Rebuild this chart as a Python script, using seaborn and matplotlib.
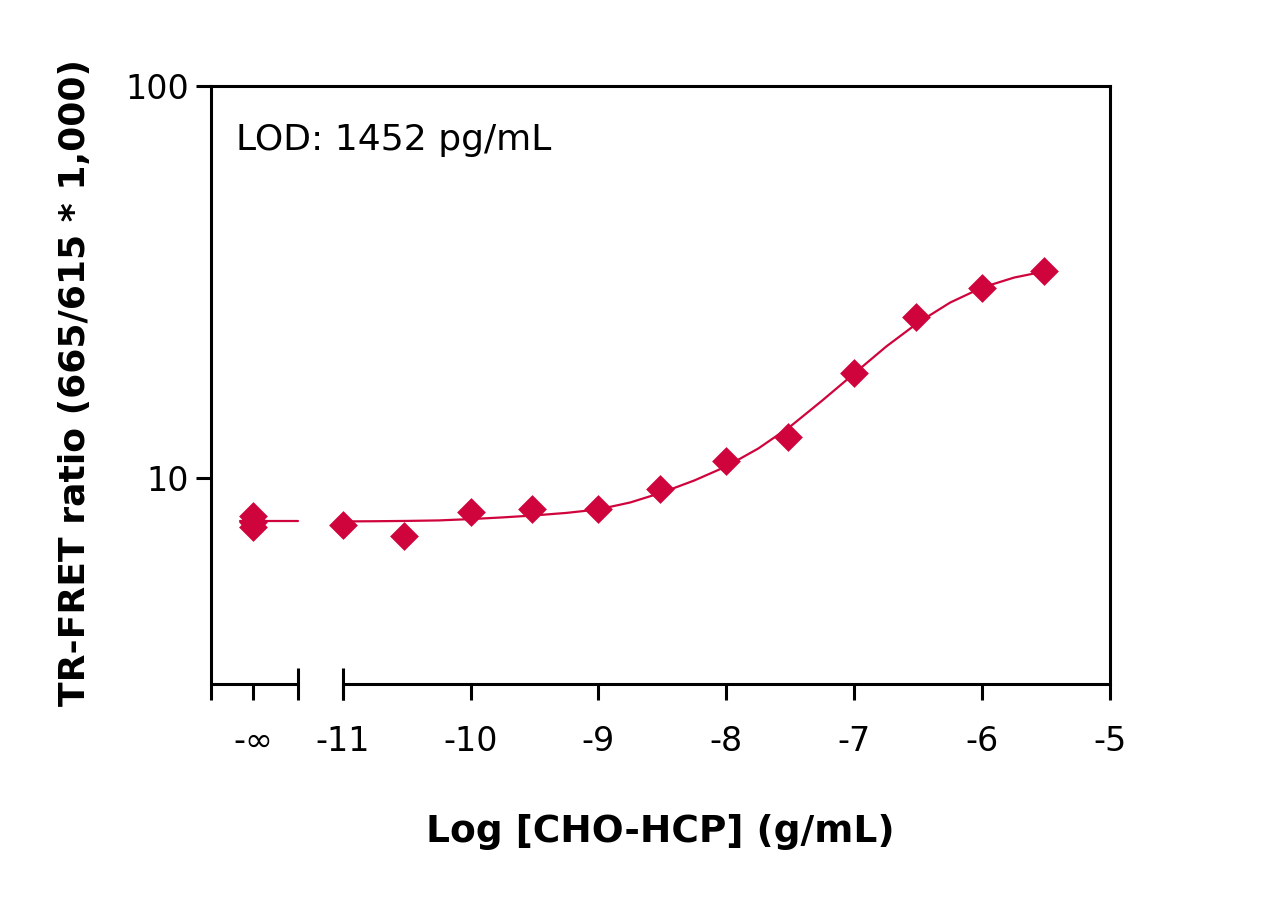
import numpy as np
import pandas as pd
import seaborn as sns
import matplotlib.pyplot as plt

# data
inf_pos = -11.7                      # where "-inf" (blank) sits on the x axis
inf_ratio = [7.98, 7.70, 7.48]       # blank replicates
log_conc = [-11, -10.52, -10, -9.52, -9, -8.52, -8, -7.52, -7, -6.52, -6, -5.52]
ratio = [7.60, 7.13, 8.18, 8.31, 8.34, 9.35, 11.02, 12.70, 18.50, 25.80, 30.48, 33.66]

fit_x = [-11.0, -10.75, -10.5, -10.25, -10.0, -9.75, -9.5, -9.25, -9.0, -8.75, -8.5,
         -8.25, -8.0, -7.75, -7.5, -7.25, -7.0, -6.75, -6.5, -6.25, -6.0, -5.75, -5.52]
fit_y = [7.745, 7.754, 7.768, 7.791, 7.852, 7.930, 8.024, 8.143, 8.312, 8.660, 9.184,
         9.854, 10.70, 11.89, 13.53, 15.76, 18.47, 21.64, 24.91, 28.02, 30.60, 32.45, 33.61]
inf_line_x = [-11.8, -11.35]
inf_line_y = [7.745, 7.745]

x_ticks = [-12.03, inf_pos, -11, -10, -9, -8, -7, -6, -5]
x_labels = ['', '-∞', '-11', '-10', '-9', '-8', '-7', '-6', '-5']
y_ticks = [10, 100]
y_labels = ['10', '100']

red = '#D0043C'

sns.set_theme(style='ticks')
plt.rcParams['font.family'] = ['DejaVu Sans']

pts = pd.DataFrame({'x': [inf_pos] * len(inf_ratio) + log_conc,
                    'y': inf_ratio + ratio})
fit = pd.DataFrame({'x': fit_x, 'y': fit_y})

fig = plt.figure(figsize=(12.65, 8.97), dpi=100)
ax = fig.add_axes([211 / 1265, 1 - 684 / 897, 899 / 1265, 598 / 897])

sns.lineplot(data=fit, x='x', y='y', ax=ax, color=red, lw=1.6,
             sort=False, estimator=None)
ax.plot(inf_line_x, inf_line_y, color=red, lw=1.6)
sns.scatterplot(data=pts, x='x', y='y', ax=ax, color=red, marker='D',
                s=215, linewidth=0, zorder=3)

ax.set_yscale('log')
ax.set_ylim(2.98, 100)
ax.set_xlim(-12.03, -5)
ax.set_yticks(y_ticks, y_labels)
ax.minorticks_off()
ax.set_xticks(x_ticks, x_labels)
ax.set_xlabel('')
ax.set_ylabel('')

for s in ['left', 'right', 'top']:
    ax.spines[s].set_linewidth(2.2)
    ax.spines[s].set_color('black')
ax.spines['bottom'].set_visible(False)

# broken x axis: two segments with caps
tr = ax.get_xaxis_transform()
for a, b in [(-12.03, -11.35), (-11, -5)]:
    ax.plot([a, b], [0, 0], color='black', lw=2.2, transform=tr,
            clip_on=False, solid_capstyle='butt')
for xb in [-11.35, -11]:
    ax.plot([xb, xb], [-0.026, 0.026], color='black', lw=2.2, transform=tr,
            clip_on=False, solid_capstyle='butt')

ax.tick_params(axis='x', length=11.5, width=2.2, color='black',
               labelsize=24, pad=18, labelcolor='black')
ax.tick_params(axis='y', length=11, width=2.2, color='black',
               labelsize=24, pad=5, labelcolor='black')

ax.text(0.028, 0.91, 'LOD: 1452 pg/mL', transform=ax.transAxes,
        ha='left', va='center', fontsize=26, color='black')

fig.text(660 / 1265, 1 - 832 / 897, 'Log [CHO-HCP] (g/mL)', ha='center',
         va='center', fontsize=27, fontweight='bold', color='black')
fig.text(75 / 1265, 1 - 382 / 897, 'TR-FRET ratio (665/615 * 1,000)',
         ha='center', va='center', rotation=90, fontsize=26,
         fontweight='bold', color='black')

fig.savefig('out.png', dpi=100, facecolor='white')
